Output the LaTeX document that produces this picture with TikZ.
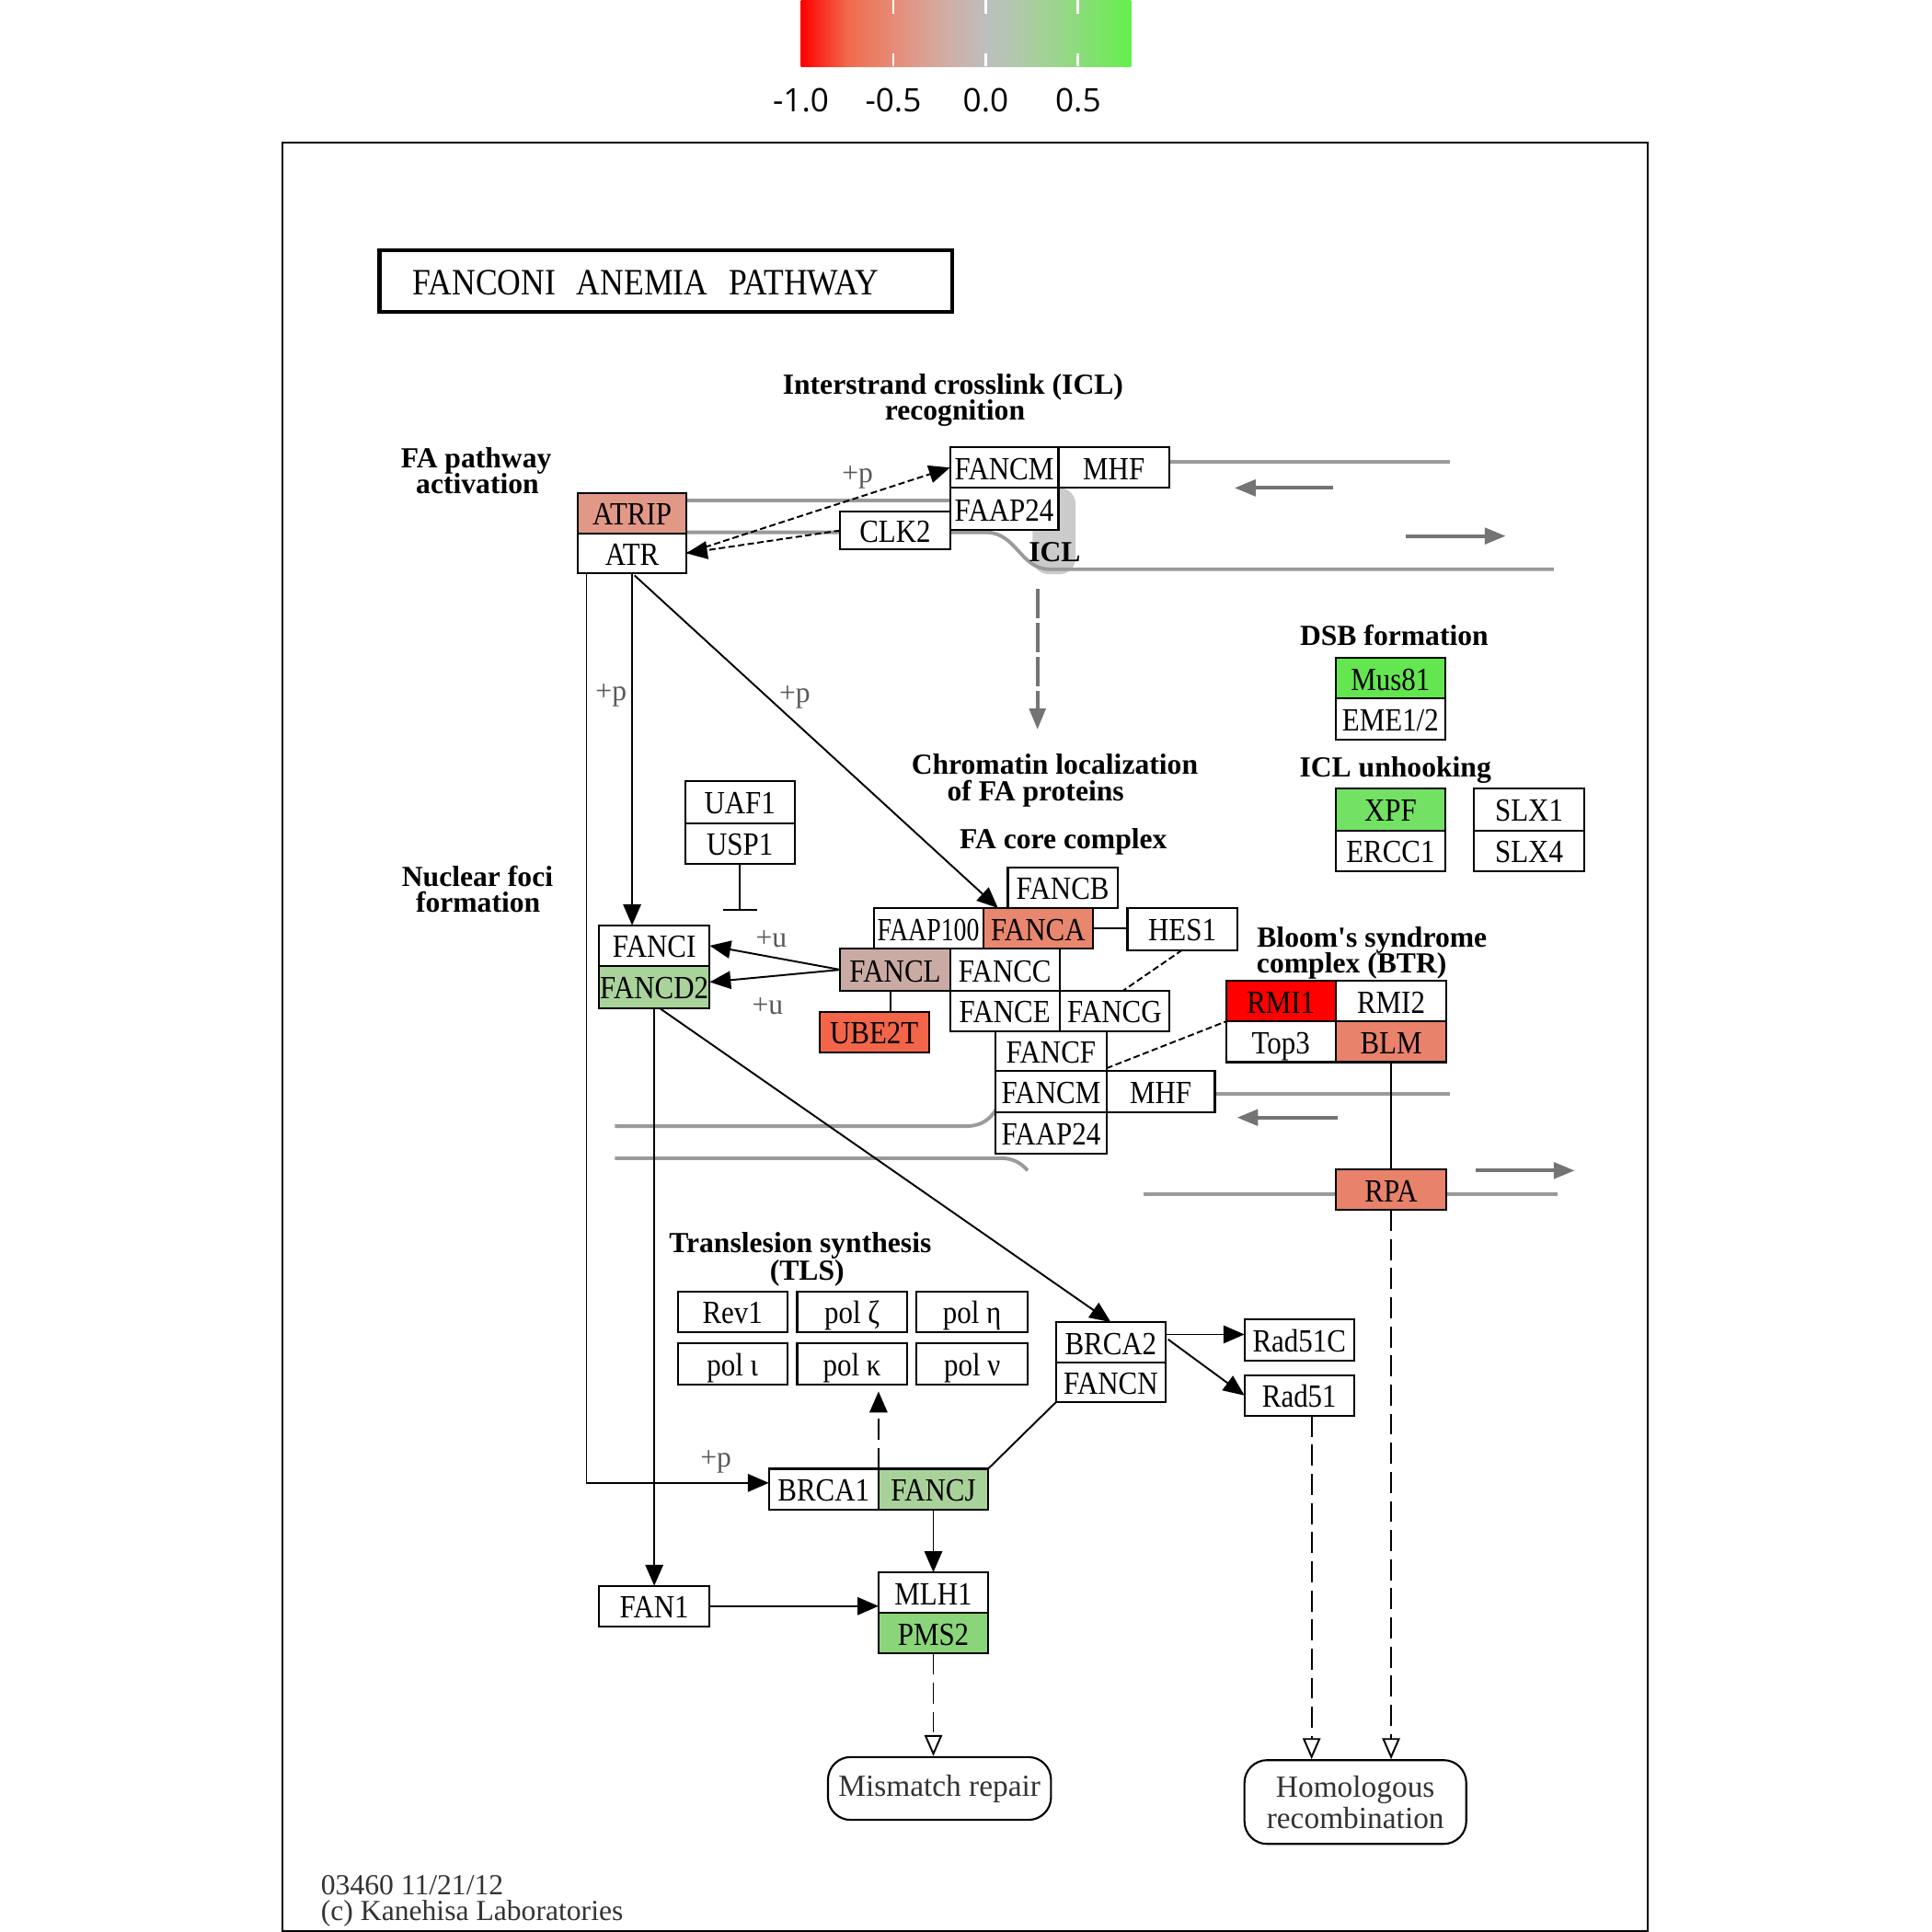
\documentclass[tikz,border=0pt]{standalone}
\usepackage{fontspec}
\setmainfont{Liberation Serif}
\newfontfamily\boxfont[FakeStretch=0.88]{Liberation Serif}
\newfontfamily\cbfont{Open Sans}
\usetikzlibrary{arrows.meta,calc}
\definecolor{cATRIP}{HTML}{E19887}
\definecolor{cFANCA}{HTML}{E8876E}
\definecolor{cFANCL}{HTML}{C9ABA4}
\definecolor{cUBE}{HTML}{F26549}
\definecolor{cRMI}{HTML}{FF0000}
\definecolor{cBLM}{HTML}{E8826B}
\definecolor{cMus}{HTML}{64E650}
\definecolor{cXPF}{HTML}{73E164}
\definecolor{cD2}{HTML}{A9D39B}
\definecolor{cJ}{HTML}{A9D29B}
\definecolor{cPMS}{HTML}{8AD57A}
\definecolor{dnagray}{HTML}{9A9A9A}
\definecolor{arrgray}{HTML}{747474}
\definecolor{icl}{HTML}{CBCBCB}
\definecolor{cb0}{HTML}{FF0000}
\definecolor{cb1}{HTML}{F06B4C}
\definecolor{cb2}{HTML}{E68C78}
\definecolor{cb3}{HTML}{D4AAA0}
\definecolor{cb4}{HTML}{BEBEBE}
\definecolor{cb5}{HTML}{AACDA0}
\definecolor{cb6}{HTML}{8CDC7C}
\definecolor{cb7}{HTML}{64F04B}
\tikzset{
  tri/.tip={Triangle[length=6.5pt,width=5.5pt]},
  otri/.tip={Triangle[open,length=6.5pt,width=5.5pt,fill=white]},
  gtri/.tip={Triangle[length=6.5pt,width=5pt]},
  kb/.style={draw, line width=0.6pt, inner sep=0pt, outer sep=0pt,
    font=\boxfont\fontsize{10}{12}\selectfont, text height=8.8pt, text depth=1.4pt},
  lbl/.style={font=\bfseries\fontsize{9}{8}\selectfont, inner sep=0pt, text height=6.6pt, text depth=0pt},
  plab/.style={text=black!65, font=\fontsize{9}{10}\selectfont, inner sep=0pt, text height=6pt, text depth=0pt},
  conn/.style={line width=0.55pt, black},
  fdash/.style={dash pattern=on 2pt off 1pt},
  ldash/.style={dash pattern=on 6.5pt off 2.5pt},
  dna/.style={line width=1.1pt, dnagray},
  garrow/.style={line width=1.1pt, arrgray, -gtri},
  gdash/.style={line width=1.1pt, arrgray, dash pattern=on 9pt off 1.5pt, -gtri},
  mapbox/.style={draw, line width=0.6pt, rounded corners=7pt, inner sep=0pt, align=center,
    font=\fontsize{9.5}{8.5}\selectfont, text=black!80},
  foot/.style={anchor=west, inner sep=0pt, text=black!80, font=\fontsize{9}{11}\selectfont, text height=6.5pt, text depth=0pt},
}
\newcommand\kbox[7][white]{%
  \node[kb, fill=#1, minimum width={(#5-#3)*0.381065pt}, minimum height={(#6-#4)*0.381065pt}]
    (#2) at ({(#3+#5)/2},{(#4+#6)/2}) {#7};}
\begin{document}
\begin{tikzpicture}[x=0.381065pt, y=-0.381065pt]
\useasboundingbox (0,0) rectangle (1568,1568);
% ---------- colour bar ----------
\shade[left color=cb0, right color=cb1] (650,0) rectangle (688,54);
\shade[left color=cb1, right color=cb2] (687.5,0) rectangle (725.5,54);
\shade[left color=cb2, right color=cb3] (725,0) rectangle (763,54);
\shade[left color=cb3, right color=cb4] (762.5,0) rectangle (800.5,54);
\shade[left color=cb4, right color=cb5] (800,0) rectangle (838,54);
\shade[left color=cb5, right color=cb6] (837.5,0) rectangle (875.5,54);
\shade[left color=cb6, right color=cb7] (875,0) rectangle (918,54);
\foreach \t in {725,800,875}{
  \draw[white, line width=0.8pt] (\t,0) -- (\t,11) (\t,43) -- (\t,54);}
\foreach \t/\l in {650/-1.0,725/-0.5,800/0.0,875/0.5}{
  \node[font=\cbfont\fontsize{10}{12}\selectfont, inner sep=0pt, text height=7.2pt, text depth=0pt] (cb\t) at (\t,81) {\l};}
% ---------- frame and title ----------
\draw[line width=0.6pt] (229.5,115.5) rectangle (1337.5,1567);
\node[draw, line width=1.2pt, inner ysep=0pt, inner xsep={27*0.381065pt}, text width={411*0.381065pt},
  minimum height={50*0.381065pt}, align=left, font=\boxfont\fontsize{11.5}{13}\selectfont,
  text height=8.8pt, text depth=0pt] (title) at (540.5,228)
  {FANCONI\hspace{6.5pt}ANEMIA\hspace{6.5pt}PATHWAY};
% ---------- labels ----------
\node[lbl] (l1a) at (773.5,311) {Interstrand crosslink (ICL)};
\node[lbl] (l1b) at (775,332) {recognition};
\node[lbl] (l2a) at (386.5,371) {FA pathway};
\node[lbl] (l2b) at (387.5,392) {activation};
\node[lbl] (l3) at (1131.5,515) {DSB formation};
\node[lbl] (l4) at (1132.5,622) {ICL unhooking};
\node[lbl] (l5a) at (856,620) {Chromatin localization};
\node[lbl] (l5b) at (840.5,641) {of FA proteins};
\node[lbl] (l6) at (863,680) {FA core complex};
\node[lbl] (l7a) at (387.5,711) {Nuclear foci};
\node[lbl] (l7b) at (388,732) {formation};
\node[lbl] (l8a) at (1113.5,760) {Bloom\textquotesingle s syndrome};
\node[lbl] (l8b) at (1097,781) {complex (BTR)};
\node[lbl] (l9a) at (649.5,1008) {Translesion synthesis};
\node[lbl] (l9b) at (655,1030) {(TLS)};
% ---------- DNA strands (grey) ----------
\fill[icl, rounded corners=5] (838,396) rectangle (873,466);
\draw[dna] (557,406) -- (790,406);
\draw[dna] (557,432) -- (800,432) .. controls (825,432) and (828,462) .. (852,462) -- (1261,462);
\draw[dna] (949,375) -- (1177,375);
\draw[garrow] (1082,396) -- (1002,396);
\draw[garrow] (1141,435) -- (1222,435);
\node[lbl] (icllab) at (856,447) {ICL};
\draw[gdash] (842,478) -- (842,592);
\draw[dna] (499,914) -- (783,914) .. controls (798,914) and (803,908) .. (809,900);
\draw[dna] (499,940) -- (813,940) .. controls (822,940) and (829,944) .. (834,950);
\draw[dna] (986,888) -- (1177,888);
\draw[dna] (928,969) -- (1264,969);
\draw[garrow] (1086,907) -- (1004,907);
\draw[garrow] (1198,950) -- (1278,950);
% ---------- gene boxes ----------
\kbox[cATRIP]{ATRIP}{469}{400}{557}{433}{ATRIP}
\kbox{ATR}{469}{433}{557}{465}{ATR}
\kbox{FANCMa}{771}{363}{859}{396}{FANCM}
\kbox{MHFa}{859}{363}{949}{396}{MHF}
\kbox{FAAPa}{771}{396}{859}{430}{FAAP24}
\kbox{CLK2}{682}{415}{771}{446}{CLK2}
\kbox[cMus]{Mus81}{1084}{534}{1173}{567}{Mus81}
\kbox{EME}{1084}{567}{1173}{600}{EME1/2}
\kbox[cXPF]{XPF}{1084}{640}{1173}{674}{XPF}
\kbox{ERCC1}{1084}{674}{1173}{707}{ERCC1}
\kbox{SLX1}{1196}{640}{1286}{674}{SLX1}
\kbox{SLX4}{1196}{674}{1286}{707}{SLX4}
\kbox{UAF1}{556}{634}{645}{668}{UAF1}
\kbox{USP1}{556}{668}{645}{701}{USP1}
\kbox{FANCB}{818}{704}{907}{737}{FANCB}
\kbox{FAAP100}{709}{737}{798}{770}{\scalebox{0.9}[1]{FAAP100}}
\kbox[cFANCA]{FANCA}{798}{737}{887}{770}{FANCA}
\kbox{HES1}{915}{737}{1004}{771}{HES1}
\kbox{FANCI}{486}{751}{576}{784}{FANCI}
\kbox[cD2]{FANCD2}{486}{784}{576}{818}{FANCD2}
\kbox[cFANCL]{FANCL}{682}{770}{771}{804}{FANCL}
\kbox{FANCC}{771}{770}{860}{804}{FANCC}
\kbox{FANCE}{771}{804}{860}{837}{FANCE}
\kbox{FANCG}{860}{804}{949}{837}{FANCG}
\kbox[cUBE]{UBE2T}{665}{821}{754}{854}{UBE2T}
\kbox{FANCF}{808}{837}{898}{869}{FANCF}
\kbox{FANCMb}{808}{869}{898}{903}{FANCM}
\kbox{MHFb}{898}{869}{986}{903}{MHF}
\kbox{FAAPb}{808}{903}{898}{936}{FAAP24}
\kbox[cRMI]{RMI1}{995}{796}{1084}{829}{RMI1}
\kbox{RMI2}{1084}{796}{1174}{829}{RMI2}
\kbox{Top3}{995}{829}{1084}{862}{Top3}
\kbox[cBLM]{BLM}{1084}{829}{1174}{862}{BLM}
\kbox[cBLM]{RPA}{1084}{949}{1174}{982}{RPA}
\kbox{Rev1}{550}{1048}{639}{1081}{Rev1}
\kbox{polz}{647}{1048}{736}{1081}{pol ζ}
\kbox{poleta}{744}{1048}{834}{1081}{pol η}
\kbox{poli}{550}{1090}{639}{1124}{pol ι}
\kbox{polk}{647}{1090}{736}{1124}{pol κ}
\kbox{poln}{744}{1090}{834}{1124}{pol ν}
\kbox{BRCA2}{857}{1073}{946}{1106}{BRCA2}
\kbox{FANCN}{857}{1106}{946}{1138}{FANCN}
\kbox{Rad51C}{1010}{1071}{1099}{1104}{Rad51C}
\kbox{Rad51}{1010}{1116}{1099}{1149}{Rad51}
\kbox{BRCA1}{624}{1192}{713}{1225}{BRCA1}
\kbox[cJ]{FANCJ}{713}{1192}{802}{1225}{FANCJ}
\kbox{FAN1}{486}{1287}{576}{1320}{FAN1}
\kbox{MLH1}{713}{1276}{802}{1309}{MLH1}
\kbox[cPMS]{PMS2}{713}{1309}{802}{1342}{PMS2}
\node[mapbox, minimum width={181*0.381065pt}, minimum height={51*0.381065pt}] (MMR) at (762.5,1451.5) {Mismatch repair};
\node[mapbox, minimum width={180*0.381065pt}, minimum height={68*0.381065pt}] (HR) at (1100,1462.5) {Homologous\\recombination};
% ---------- attachment points ----------
\coordinate (atrL) at ($(ATR.south west)+(7,0)$);
\coordinate (brca1in) at ($(BRCA1.west)+(0,-5)$);
\coordinate (fanclS) at ($(FANCL.south)+(-4,0)$);
\coordinate (brca2R) at ($(BRCA2.north east)+(0,10)$);
\coordinate (brca2R2) at ($(BRCA2.north east)+(2,14)$);
\coordinate (rad51S) at ($(Rad51.south)+(10,0)$);
% ---------- connectors ----------
\draw[conn, fdash, -tri] (ATR.east) -- (FANCMa.west);
\draw[conn, fdash, -tri] (CLK2.west) -- (ATR.east);
\draw[conn, -tri] (atrL) |- (brca1in);
\draw[conn, -tri] (ATR.south) -- (ATR.south |- FANCI.north);
\draw[conn, -tri] ($(ATR.south)+(2,2)$) -- ($(FANCA.north west)+(12,0)$);
\draw[conn, -{Bar[width=10.5pt]}] (USP1.south) -- ++(0,38);
\draw[conn, -tri] (FANCL.west) -- (FANCI.east);
\draw[conn, -tri] (FANCL.west) -- ($(FANCD2.east)+(0,-4)$);
\draw[conn] (fanclS) -- (fanclS |- UBE2T.north);
\draw[conn] (FANCA.east) -- (FANCA.east -| HES1.west);
\draw[conn, fdash] (HES1.south) -- ($(FANCG.north)+(7,0)$);
\draw[conn, fdash] ($(FANCF.south east)+(0,-2)$) -- (Top3.north west);
\draw[conn] (BLM.south) -- (RPA.north);
\draw[conn, ldash, -otri] (RPA.south) -- (RPA.south |- HR.north);
\draw[conn, -tri] ($(FANCD2.south)+(4,0)$) -- (BRCA2.north);
\draw[conn, -tri] (FANCD2.south) -- (FAN1.north);
\draw[conn, ldash, -tri, shorten >=2pt] (BRCA1.north east) -- (BRCA1.north east |- polk.south);
\draw[conn] (FANCN.south west) -- (FANCJ.north east);
\draw[conn, -tri] (FANCJ.south) -- (MLH1.north);
\draw[conn, -tri] (FAN1.east) -- (FAN1.east -| MLH1.west);
\draw[conn, ldash, -otri] (PMS2.south) -- (PMS2.south |- MMR.north);
\draw[conn, -tri] (brca2R) -- (brca2R -| Rad51C.west);
\draw[conn, -tri] (brca2R2) -- (Rad51.west);
\draw[conn, ldash, -otri] (rad51S) -- (rad51S |- HR.north);
% ---------- modification labels ----------
\node[plab] (p1) at (696,384) {+p};
\node[plab] (p2) at (496,561) {+p};
\node[plab] (p3) at (645,562) {+p};
\node[plab] (p4) at (581,1183) {+p};
\node[plab] (u1) at (626,761) {+u};
\node[plab] (u2) at (623,815) {+u};
% ---------- footer ----------
\node[foot] (f1) at (260,1529) {03460 11/21/12};
\node[foot] (f2) at (260,1550) {(c) Kanehisa Laboratories};
\end{tikzpicture}
\end{document}
